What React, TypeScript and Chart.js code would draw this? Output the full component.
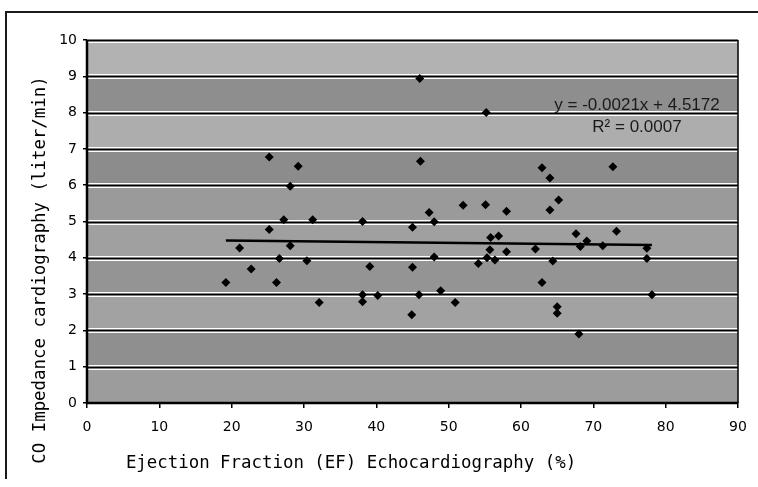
import React, { useEffect, useRef } from "react";
import { Chart, registerables } from "chart.js";

Chart.register(...registerables);

// Ejection fraction (%) of each patient
const efValues = [
  19.2, 21.1, 22.7, 25.2, 25.2, 26.2, 26.6, 27.2, 28.1, 28.1,
  29.2, 30.4, 31.2, 32.1, 38.1, 38.1, 38.1, 39.1, 40.2, 45.0,
  45.0, 44.9, 46.0, 46.1, 45.9, 47.3, 48.0, 48.0, 48.9, 50.9,
  52.0, 54.1, 55.3, 55.2, 55.1, 55.8, 55.7, 56.4, 56.9, 58.0,
  58.0, 62.0, 62.9, 62.9, 64.0, 64.0, 64.4, 65.2, 65.0, 65.0,
  67.6, 68.2, 68.0, 69.1, 71.3, 72.7, 73.2, 77.4, 77.4, 78.1,
];
// Cardiac output by impedance cardiography (liter/min)
const coValues = [
  3.32, 4.27, 3.69, 6.78, 4.78, 3.32, 3.98, 5.05, 5.97, 4.33,
  6.52, 3.92, 5.05, 2.77, 5.0, 2.98, 2.79, 3.76, 2.96, 4.84,
  3.74, 2.43, 8.94, 6.66, 2.98, 5.25, 4.02, 4.99, 3.09, 2.77,
  5.45, 3.84, 4.0, 8.0, 5.46, 4.56, 4.22, 3.94, 4.6, 5.28,
  4.17, 4.24, 6.48, 3.32, 6.2, 5.32, 3.91, 5.59, 2.65, 2.47,
  4.66, 4.31, 1.9, 4.46, 4.33, 6.51, 4.73, 4.26, 3.98, 2.98,
];

const xTicks = [0, 10, 20, 30, 40, 50, 60, 70, 80, 90];
const yTicks = [0, 1, 2, 3, 4, 5, 6, 7, 8, 9, 10];

const trendSlope = -0.0021;
const trendIntercept = 4.5172;
const equationLines = ["y = -0.0021x + 4.5172", "R\u00B2 = 0.0007"];

const xTitle = "Ejection Fraction (EF) Echocardiography (%)";
const yTitle = "CO Impedance cardiography (liter/min)";

const bandShades = [
  "#9c9c9c", "#8f8f8f", "#a2a2a2", "#949494", "#a0a0a0",
  "#9a9a9a", "#8c8c8c", "#adadad", "#8e8e8e", "#b2b2b2",
];

const decorPlugin = {
  id: "decor",
  beforeDraw(chart: any) {
    const { ctx, chartArea } = chart;
    const { left, right } = chartArea;
    const ys = chart.scales.y;
    ctx.save();
    ctx.fillStyle = "#ffffff";
    ctx.fillRect(0, 0, chart.width, chart.height);
    // outer frame
    ctx.strokeStyle = "#1a1a1a";
    ctx.lineWidth = 2;
    ctx.beginPath();
    ctx.moveTo(6, chart.height - 8);
    ctx.lineTo(6, 12);
    ctx.lineTo(chart.width, 12);
    ctx.stroke();
    // textured bands (approximated by shades)
    for (let i = 0; i < yTicks.length - 1; i++) {
      const y0 = ys.getPixelForValue(yTicks[i]);
      const y1 = ys.getPixelForValue(yTicks[i + 1]);
      ctx.fillStyle = bandShades[i % bandShades.length];
      ctx.fillRect(left, y1, right - left, y0 - y1);
    }
    ctx.restore();
  },
  beforeDatasetsDraw(chart: any) {
    const { ctx, chartArea } = chart;
    const { left, right, top, bottom } = chartArea;
    const ys = chart.scales.y;
    ctx.save();
    for (const v of yTicks) {
      if (v === yTicks[0]) continue;
      const py = Math.round(ys.getPixelForValue(v)) + 0.5;
      ctx.strokeStyle = "#ffffff";
      ctx.lineWidth = 5;
      ctx.beginPath();
      ctx.moveTo(left, py);
      ctx.lineTo(right, py);
      ctx.stroke();
      ctx.strokeStyle = "#000000";
      ctx.lineWidth = 2;
      ctx.beginPath();
      ctx.moveTo(left, py);
      ctx.lineTo(right, py);
      ctx.stroke();
    }
    // plot frame
    ctx.strokeStyle = "#000000";
    ctx.lineWidth = 1.5;
    ctx.beginPath();
    ctx.moveTo(right, top);
    ctx.lineTo(right, bottom);
    ctx.stroke();
    ctx.lineWidth = 2.5;
    ctx.beginPath();
    ctx.moveTo(left, top);
    ctx.lineTo(left, bottom);
    ctx.lineTo(right, bottom);
    ctx.stroke();
    ctx.restore();
  },
  afterDraw(chart: any) {
    const { ctx } = chart;
    ctx.save();
    ctx.fillStyle = "#000000";
    ctx.font = "17.4px 'DejaVu Sans Mono', monospace";
    ctx.textAlign = "center";
    ctx.textBaseline = "middle";
    ctx.fillText(xTitle, 351, 463);
    ctx.translate(40, 270);
    ctx.rotate(-Math.PI / 2);
    ctx.fillText(yTitle, 0, 0);
    ctx.restore();

    ctx.save();
    ctx.fillStyle = "#1a1a1a";
    ctx.font = "17px 'Liberation Sans', Arial, sans-serif";
    ctx.textAlign = "center";
    ctx.textBaseline = "middle";
    ctx.fillText(equationLines[0], 637, 105);
    ctx.fillText(equationLines[1], 637, 127);
    ctx.restore();
  },
};

export default function App() {
  const canvasRef = useRef<HTMLCanvasElement | null>(null);

  useEffect(() => {
    const canvas = canvasRef.current;
    if (!canvas) return;
    const points = efValues.map((x, i) => ({ x, y: coValues[i] }));
    const xMin = Math.min(...efValues);
    const xMax = Math.max(...efValues);
    const trend = [
      { x: xMin, y: trendSlope * xMin + trendIntercept },
      { x: xMax, y: trendSlope * xMax + trendIntercept },
    ];
    const tickFont = { family: "'DejaVu Sans', sans-serif", size: 14 };

    const chart = new Chart(canvas, {
      type: "scatter",
      data: {
        datasets: [
          {
            type: "line",
            data: trend,
            borderColor: "#000000",
            borderWidth: 2.5,
            pointRadius: 0,
            fill: false,
            order: 2,
          } as any,
          {
            data: points,
            pointStyle: "rectRot",
            pointRadius: 4.5,
            backgroundColor: "#000000",
            borderColor: "#000000",
            borderWidth: 0,
            order: 1,
          },
        ],
      },
      options: {
        animation: false,
        responsive: true,
        maintainAspectRatio: false,
        layout: { padding: { left: 0, top: 40, right: 20, bottom: 0 } },
        plugins: {
          legend: { display: false },
          tooltip: { enabled: false },
        },
        scales: {
          x: {
            type: "linear",
            min: xTicks[0],
            max: xTicks[xTicks.length - 1],
            afterBuildTicks: (s: any) => {
              s.ticks = xTicks.map((v) => ({ value: v }));
            },
            afterFit: (s: any) => {
              s.height = 84;
            },
            ticks: { color: "#000000", font: tickFont, padding: 11 },
            grid: {
              drawOnChartArea: false,
              drawTicks: true,
              tickLength: 5,
              color: "#000000",
              lineWidth: 1.5,
            },
            border: { display: true, color: "#000000", width: 2 },
          },
          y: {
            type: "linear",
            min: yTicks[0],
            max: yTicks[yTicks.length - 1],
            afterBuildTicks: (s: any) => {
              s.ticks = yTicks.map((v) => ({ value: v }));
            },
            afterFit: (s: any) => {
              s.width = 87;
            },
            ticks: { color: "#000000", font: tickFont, padding: 6 },
            grid: {
              drawOnChartArea: false,
              drawTicks: true,
              tickLength: 4,
              color: "#000000",
              lineWidth: 1.5,
            },
            border: { display: true, color: "#000000", width: 2 },
          },
        },
      },
      plugins: [decorPlugin],
    });
    return () => chart.destroy();
  }, []);

  return (
    <div style={{ position: "fixed", left: 0, top: 0, width: 758, height: 487 }}>
      <canvas ref={canvasRef} />
    </div>
  );
}
